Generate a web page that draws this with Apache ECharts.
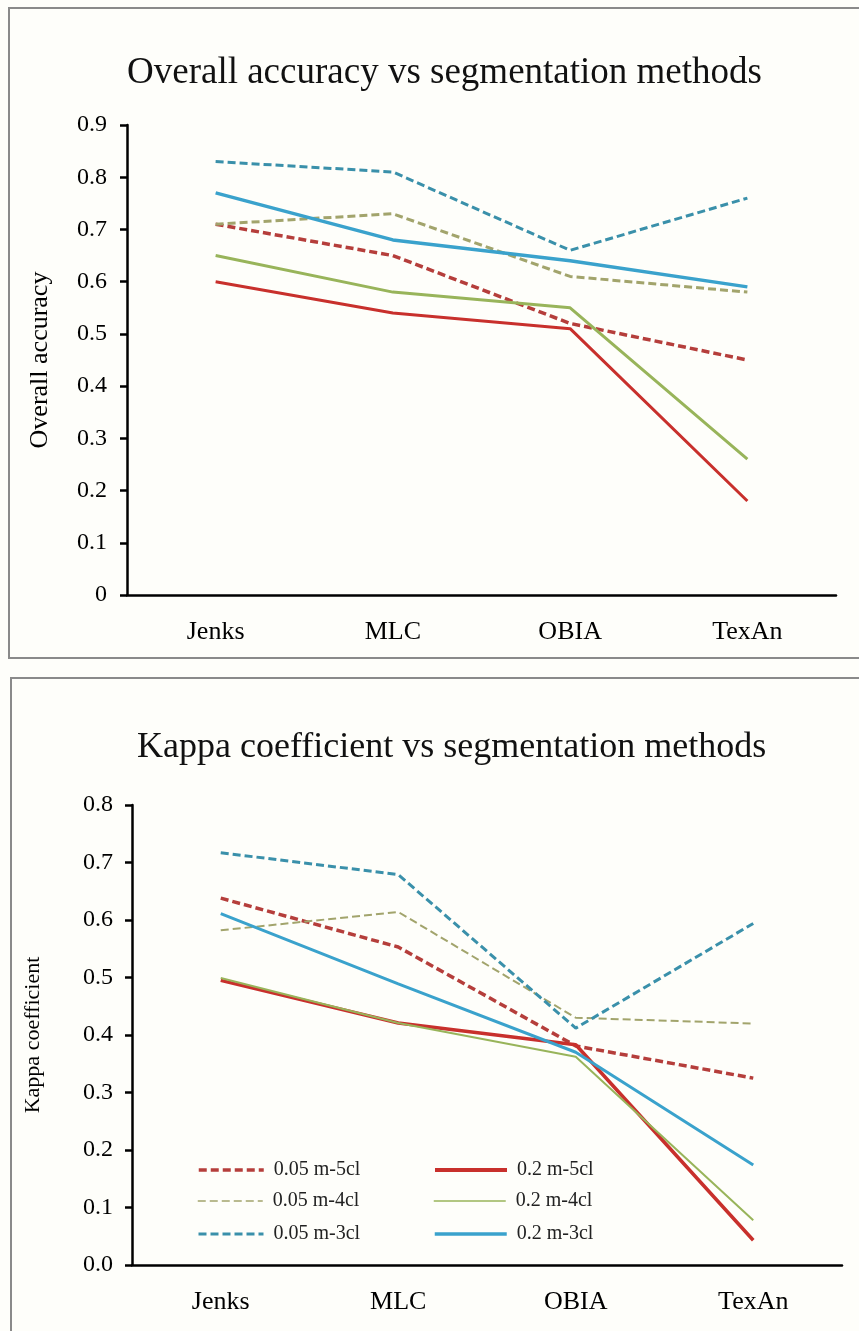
<!DOCTYPE html>
<html>
<head>
<meta charset="utf-8">
<script src="https://cdn.jsdelivr.net/npm/echarts@6/dist/echarts.min.js"></script>
<style>
  html, body { margin: 0; padding: 0; background: #fefefa; }
  #view { width: 859px; height: 1331px; }
</style>
</head>
<body>
<div id="view"></div>
<script>
// segmentation methods on the x axis
const categories = ["Jenks", "MLC", "OBIA", "TexAn"];
const seriesNames = ["0.05 m-5cl", "0.05 m-4cl", "0.05 m-3cl", "0.2 m-5cl", "0.2 m-4cl", "0.2 m-3cl"];

// overall accuracy (top chart)
const oa005m5cl = [0.71, 0.65, 0.52, 0.45];
const oa005m4cl = [0.71, 0.73, 0.61, 0.58];
const oa005m3cl = [0.83, 0.81, 0.66, 0.76];
const oa02m5cl = [0.60, 0.54, 0.51, 0.18];
const oa02m4cl = [0.65, 0.58, 0.55, 0.26];
const oa02m3cl = [0.77, 0.68, 0.64, 0.59];

// kappa coefficient (bottom chart)
const kappa005m5cl = [0.638, 0.553, 0.381, 0.325];
const kappa005m4cl = [0.582, 0.614, 0.430, 0.420];
const kappa005m3cl = [0.717, 0.679, 0.412, 0.594];
const kappa02m5cl = [0.495, 0.421, 0.383, 0.043];
const kappa02m4cl = [0.499, 0.421, 0.362, 0.078];
const kappa02m3cl = [0.611, 0.489, 0.370, 0.174];

const font = "'Liberation Serif', 'DejaVu Serif', serif";

// colour / dash / width per series: [top width, bottom width, legend width]
const styles = [
  { color: "#b53e3b", dash: [8, 4], w: [3.5, 3.5, 3.5] },
  { color: "#a2a46c", dash: [8, 4], w: [3, 2, 1.5] },
  { color: "#3a90aa", dash: [8, 4], w: [3, 3, 3] },
  { color: "#c8302c", dash: "solid", w: [3, 3.5, 4] },
  { color: "#98b45a", dash: "solid", w: [3, 2, 1.5] },
  { color: "#3aa2cc", dash: "solid", w: [3.5, 3, 3.5] },
];

const topData = [oa005m5cl, oa005m4cl, oa005m3cl, oa02m5cl, oa02m4cl, oa02m3cl];
const bottomData = [kappa005m5cl, kappa005m4cl, kappa005m3cl, kappa02m5cl, kappa02m4cl, kappa02m3cl];

function makeSeries(dataList, idx) {
  return dataList.map((d, i) => ({
    name: seriesNames[i],
    type: "line",
    xAxisIndex: idx,
    yAxisIndex: idx,
    symbol: "none",
    silent: true,
    lineStyle: { color: styles[i].color, width: styles[i].w[idx], type: styles[i].dash },
    itemStyle: { color: styles[i].color },
    data: d,
  }));
}

function xAxisOf(idx) {
  return {
    gridIndex: idx,
    type: "category",
    data: categories,
    boundaryGap: true,
    axisLine: { lineStyle: { color: "#000", width: 2.5 } },
    axisTick: { length: 8, lineStyle: { color: "#000", width: 2.5 } },
    axisLabel: { color: "#000", fontFamily: font, fontSize: 26, margin: 24 },
  };
}

function yAxisOf(idx, max, name, nameGap, nameSize, fmt, margin) {
  return {
    gridIndex: idx,
    type: "value",
    min: 0,
    max: max,
    interval: 0.1,
    name: name,
    nameLocation: "middle",
    nameGap: nameGap,
    nameTextStyle: { color: "#000", fontFamily: font, fontSize: nameSize },
    axisLine: { show: true, lineStyle: { color: "#000", width: 2.5 } },
    axisTick: { show: true, length: 7, lineStyle: { color: "#000", width: 2.5 } },
    splitLine: { show: false },
    axisLabel: { color: "#000", fontFamily: font, fontSize: 24, margin: margin, formatter: fmt },
  };
}

// legend positions (left, center y, line length) for the bottom chart
const legendPos = [
  [192, 1162, 65], [192, 1193, 65], [192, 1226, 65],
  [428, 1162, 72], [428, 1193, 72], [428, 1226, 72],
];
const legends = seriesNames.map((n, i) => ({
  data: [n],
  left: legendPos[i][0],
  top: legendPos[i][1] - 7,
  itemWidth: legendPos[i][2],
  itemHeight: 14,
  selectedMode: false,
  itemStyle: { opacity: 0 },
  lineStyle: { width: styles[i].w[2], type: styles[i].dash, color: styles[i].color },
  formatter: (s) => " " + s,
  textStyle: { color: "#222", fontFamily: font, fontSize: 20 },
}));

const myChart = echarts.init(document.getElementById("view"));
const option = {
  backgroundColor: "#fefefa",
  animation: false,
  title: [
    { text: "Overall accuracy vs segmentation methods", left: 122, top: 50,
      textStyle: { color: "#111", fontFamily: font, fontSize: 37, fontWeight: "normal" } },
    { text: "Kappa coefficient vs segmentation methods", left: 132, top: 725,
      textStyle: { color: "#111", fontFamily: font, fontSize: 36, fontWeight: "normal" } },
  ],
  graphic: [
    { type: "rect", shape: { x: 9, y: 8, width: 860, height: 650 },
      style: { fill: null, stroke: "#8a8a8a", lineWidth: 2 }, silent: true },
    { type: "rect", shape: { x: 11, y: 678, width: 860, height: 670 },
      style: { fill: null, stroke: "#8a8a8a", lineWidth: 2 }, silent: true },
  ],
  legend: legends,
  grid: [
    { left: 127, top: 125, width: 709, height: 470 },
    { left: 132, top: 805, width: 710, height: 460 },
  ],
  xAxis: [xAxisOf(0), xAxisOf(1)],
  yAxis: [
    yAxisOf(0, 0.9, "Overall accuracy", 74, 26, (v) => String(+v.toFixed(1)), 20),
    yAxisOf(1, 0.8, "Kappa coefficient", 88, 22, (v) => v.toFixed(1), 19),
  ],
  series: makeSeries(topData, 0).concat(makeSeries(bottomData, 1)),
};
myChart.setOption(option);
</script>
</body>
</html>
